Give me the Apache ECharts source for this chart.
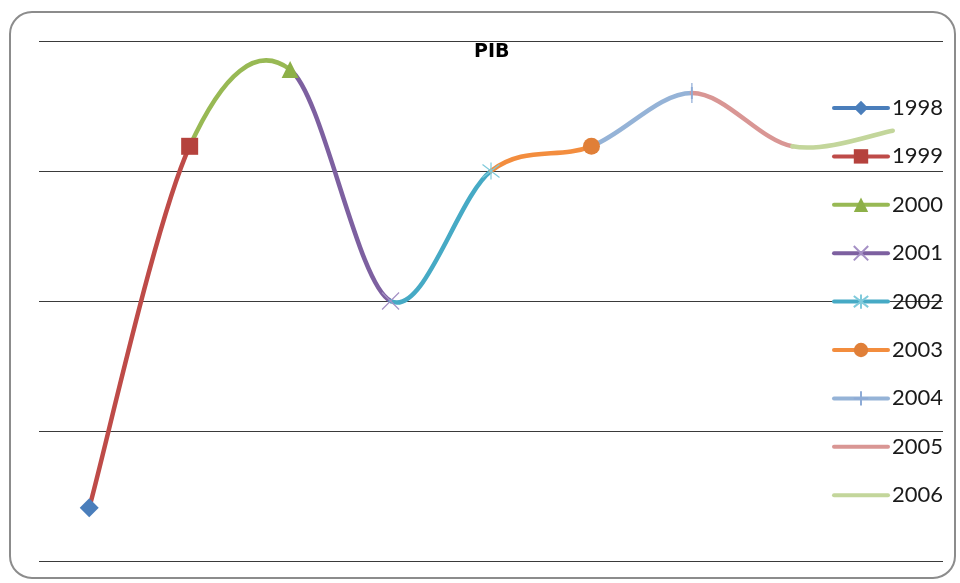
<!DOCTYPE html>
<html>
<head>
<meta charset="utf-8">
<script src="https://cdn.jsdelivr.net/npm/echarts@6/dist/echarts.min.js"></script>
<style>
html,body{margin:0;padding:0;background:#fff;}
#c{width:960px;height:583px;}
</style>
</head>
<body>
<div id="c"></div>
<script>
// Data
const years = ['1998','1999','2000','2001','2002','2003','2004','2005','2006'];
const pib = [0.41, 3.19, 3.78, 2.00, 3.00, 3.19, 3.60, 3.19, 3.31];
const yTicks = [0, 1, 2, 3, 4];

// Styles
const seriesColors = ['#4A7EBB','#BE4B48','#98B954','#7D60A0','#46AAC5','#F38D3E','#95B3D7','#D99694','#C3D69B'];
const markerColors = ['#4A7EBB','#B5423D','#8DB048','#A590C5','#7FCADB','#E07F38','#8EABD6','#D99694','#C3D69B'];
const symbols = [
  'diamond','rect','triangle',
  'path://M0,0L10,10M10,0L0,10',
  'path://M0,0L10,10M10,0L0,10M5,-1.5L5,11.5',
  'circle',
  'path://M5,-2L5,12M0,5L10,5',
  'none','none'
];
const symbolSizes = [19, 17, 17, 17, 17, 17, [2, 20], 0, 0];
const strokeOnly = [false,false,false,true,true,false,true,false,false];

const chart = echarts.init(document.getElementById('c'));

// Excel-like smoothed line (Catmull-Rom Bezier), one coloured segment per year
function renderSegment(params, api) {
  const i = params.dataIndex;
  if (i === 0) return null;
  const n = pib.length;
  const P = k => api.coord([Math.max(0, Math.min(n - 1, k)), pib[Math.max(0, Math.min(n - 1, k))]]);
  const p0 = P(i - 2), p1 = P(i - 1), p2 = P(i), p3 = P(i + 1);
  const f = 1 / 6;
  return {
    type: 'bezierCurve',
    shape: {
      x1: p1[0], y1: p1[1],
      x2: p2[0], y2: p2[1],
      cpx1: p1[0] + (p2[0] - p0[0]) * f,
      cpy1: p1[1] + (p2[1] - p0[1]) * f,
      cpx2: p2[0] - (p3[0] - p1[0]) * f,
      cpy2: p2[1] - (p3[1] - p1[1]) * f
    },
    style: { fill: 'none', stroke: seriesColors[i], lineWidth: 4.5, lineCap: 'round' }
  };
}

const series = [{
  name: 'PIB',
  type: 'custom',
  data: pib.map((v, i) => [i, v]),
  renderItem: renderSegment,
  encode: { x: 0, y: 1 },
  z: 2,
  silent: true
}];
years.forEach((y, i) => {
  const so = strokeOnly[i];
  const none = symbols[i] === 'none';
  series.push({
    name: y,
    type: 'line',
    data: years.map((_, j) => j === i ? pib[i] : null),
    symbol: none ? 'circle' : symbols[i],
    symbolSize: symbolSizes[i],
    showSymbol: !none,
    z: 3,
    color: seriesColors[i],
    lineStyle: { width: 4, color: seriesColors[i], cap: 'round' },
    itemStyle: none ? { color: 'rgba(0,0,0,0)', borderColor: 'rgba(0,0,0,0)', borderWidth: 0 }
      : so ? { color: 'none', borderColor: markerColors[i], borderWidth: 1.2 }
           : { color: markerColors[i] }
  });
});

chart.setOption({
  animation: false,
  backgroundColor: '#fff',
  title: {
    text: 'PIB',
    left: 469,
    top: 38,
    textStyle: { fontFamily: 'DejaVu Sans', fontWeight: 'bold', fontSize: 19, color: '#000' }
  },
  grid: { left: 39, right: 17, top: 41, bottom: 22, containLabel: false },
  xAxis: {
    type: 'category',
    data: years,
    boundaryGap: true,
    axisLine: { show: false },
    axisTick: { show: false },
    axisLabel: { show: false },
    splitLine: { show: false }
  },
  yAxis: {
    type: 'value',
    min: yTicks[0],
    max: yTicks[yTicks.length - 1],
    interval: yTicks[1] - yTicks[0],
    axisLine: { show: false },
    axisTick: { show: false },
    axisLabel: { show: false },
    splitLine: { show: true, lineStyle: { color: '#3a3a3a', width: 1 } }
  },
  legend: {
    data: years,
    orient: 'vertical',
    left: 832,
    top: 97,
    padding: 0,
    itemWidth: 54,
    itemHeight: 18,
    itemGap: 26.4,
    lineStyle: { width: 4 },
    textStyle: { fontFamily: 'Lato', fontSize: 22, color: '#1a1a1a', padding: [0, 0, 0, -1] }
  },
  graphic: [{
    type: 'rect',
    shape: { x: 10, y: 12, width: 945, height: 566, r: 22 },
    style: { fill: 'none', stroke: '#8c8c8c', lineWidth: 2 },
    silent: true,
    z: 0
  }],
  series: series
});
</script>
</body>
</html>
